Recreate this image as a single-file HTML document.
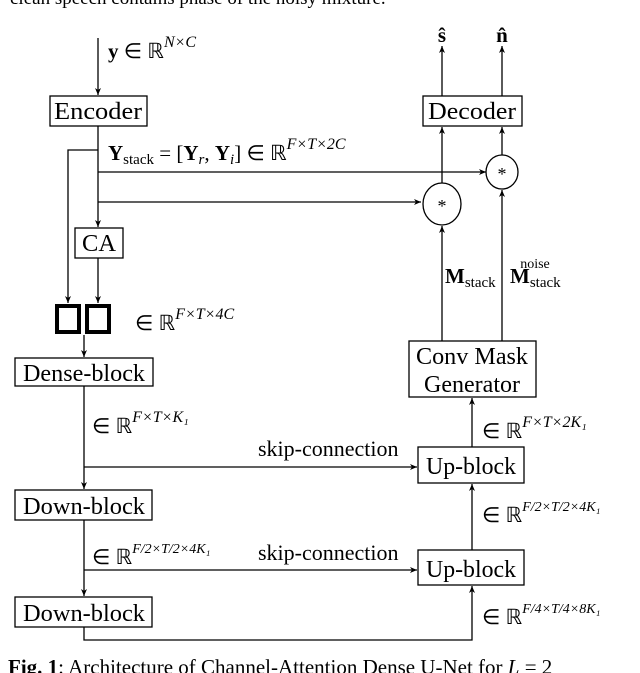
<!DOCTYPE html>
<html><head><style>
html,body{margin:0;padding:0;background:#fff;}
svg{display:block;font-family:"Liberation Serif",serif;}
</style></head><body>
<svg width="640" height="673" viewBox="0 0 640 673" xmlns="http://www.w3.org/2000/svg">
<defs><marker id="a" markerWidth="8" markerHeight="8" refX="7" refY="4" orient="auto" markerUnits="userSpaceOnUse"><path d="M0,1 L7,4 L0,7 L2,4 Z" fill="#000"/></marker></defs>
<text x="10" y="4" font-size="19">clean speech contains phase of the noisy mixture.</text>
<g stroke="#000" stroke-width="1.3" fill="none">
<line x1="98" y1="38" x2="98" y2="95" marker-end="url(#a)"/>
<rect x="50" y="96" width="97" height="30"/>
<rect x="423" y="96" width="99" height="30"/>
<line x1="442" y1="96" x2="442" y2="46" marker-end="url(#a)"/>
<line x1="502" y1="96" x2="502" y2="46" marker-end="url(#a)"/>
<line x1="98" y1="126" x2="98" y2="227" marker-end="url(#a)"/>
<polyline points="98,150 68,150 68,303" marker-end="url(#a)"/>
<line x1="98" y1="172" x2="486" y2="172" marker-end="url(#a)"/>
<line x1="98" y1="202" x2="421" y2="202" marker-end="url(#a)"/>
<ellipse cx="502" cy="172" rx="16" ry="17"/>
<ellipse cx="442" cy="204" rx="19" ry="21"/>
<line x1="442" y1="183" x2="442" y2="127" marker-end="url(#a)"/>
<line x1="502" y1="155" x2="502" y2="127" marker-end="url(#a)"/>
<line x1="442" y1="341" x2="442" y2="226" marker-end="url(#a)"/>
<line x1="502" y1="341" x2="502" y2="190" marker-end="url(#a)"/>
<rect x="75" y="228" width="48" height="30"/>
<line x1="98" y1="258" x2="98" y2="303" marker-end="url(#a)"/>
<line x1="84" y1="335" x2="84" y2="357" marker-end="url(#a)"/>
<rect x="15" y="358" width="138" height="28"/>
<rect x="409" y="341" width="127" height="56"/>
<line x1="84" y1="386" x2="84" y2="489" marker-end="url(#a)"/>
<line x1="84" y1="467" x2="417" y2="467" marker-end="url(#a)"/>
<rect x="418" y="447" width="106" height="36"/>
<rect x="15" y="490" width="137" height="30"/>
<line x1="84" y1="520" x2="84" y2="596" marker-end="url(#a)"/>
<line x1="84" y1="570" x2="417" y2="570" marker-end="url(#a)"/>
<rect x="418" y="550" width="106" height="35"/>
<rect x="15" y="597" width="137" height="30"/>
<polyline points="84,627 84,640 472,640 472,586" marker-end="url(#a)"/>
<line x1="472" y1="550" x2="472" y2="484" marker-end="url(#a)"/>
<line x1="472" y1="447" x2="472" y2="398" marker-end="url(#a)"/>
</g>
<rect x="57" y="306" width="22" height="26" fill="none" stroke="#000" stroke-width="4"/>
<rect x="87" y="306" width="22" height="26" fill="none" stroke="#000" stroke-width="4"/>
<g font-size="24" text-anchor="middle">
<text x="98" y="119" textLength="88" lengthAdjust="spacingAndGlyphs">Encoder</text>
<text x="472" y="119" textLength="88" lengthAdjust="spacingAndGlyphs">Decoder</text>
<text x="99" y="251" textLength="34" lengthAdjust="spacingAndGlyphs">CA</text>
<text x="84" y="381" textLength="122" lengthAdjust="spacingAndGlyphs">Dense-block</text>
<text x="472" y="364" textLength="112" lengthAdjust="spacingAndGlyphs">Conv Mask</text>
<text x="472" y="392" textLength="96" lengthAdjust="spacingAndGlyphs">Generator</text>
<text x="471" y="474" textLength="90" lengthAdjust="spacingAndGlyphs">Up-block</text>
<text x="84" y="514" textLength="122" lengthAdjust="spacingAndGlyphs">Down-block</text>
<text x="471" y="577" textLength="90" lengthAdjust="spacingAndGlyphs">Up-block</text>
<text x="84" y="621" textLength="122" lengthAdjust="spacingAndGlyphs">Down-block</text>
<text x="442" y="42" font-size="21" font-weight="bold">ŝ</text>
<text x="502" y="42" font-size="21" font-weight="bold">n̂</text>
<text x="442" y="212" font-size="18">*</text>
<text x="502" y="180" font-size="18">*</text>
</g>
<g font-size="21">
<text x="108" y="58"><tspan font-weight="bold">y</tspan> ∈ ℝ<tspan font-size="16" dy="-11" font-style="italic">N×C</tspan></text>
<text x="108" y="160"><tspan font-weight="bold">Y</tspan><tspan font-size="15" dy="4">stack</tspan><tspan dy="-4"> = [</tspan><tspan font-weight="bold">Y</tspan><tspan font-size="15" font-style="italic" dy="4">r</tspan><tspan dy="-4">, </tspan><tspan font-weight="bold">Y</tspan><tspan font-size="15" font-style="italic" dy="4">i</tspan><tspan dy="-4">] ∈ ℝ</tspan><tspan font-size="16" dy="-11" font-style="italic">F×T×2C</tspan></text>
<text x="135" y="330">∈ ℝ<tspan font-size="16" dy="-11" font-style="italic">F×T×4C</tspan></text>
<text x="445" y="283"><tspan font-weight="bold">M</tspan><tspan font-size="15" dy="4">stack</tspan></text>
<text x="510" y="283"><tspan font-weight="bold">M</tspan><tspan font-size="15" dy="4">stack</tspan></text>
<text x="535" y="268" font-size="14" text-anchor="middle">noise</text>
<text x="92" y="433">∈ ℝ<tspan font-size="16" dy="-11" font-style="italic">F×T×K₁</tspan></text>
<text x="258" y="456" font-size="22">skip-connection</text>
<text x="482" y="438">∈ ℝ<tspan font-size="16" dy="-11" font-style="italic">F×T×2K₁</tspan></text>
<text x="482" y="522">∈ ℝ<tspan font-size="14" dy="-11" font-style="italic">F/2×T/2×4K₁</tspan></text>
<text x="92" y="564">∈ ℝ<tspan font-size="14" dy="-11" font-style="italic">F/2×T/2×4K₁</tspan></text>
<text x="258" y="560" font-size="22">skip-connection</text>
<text x="482" y="624">∈ ℝ<tspan font-size="14" dy="-11" font-style="italic">F/4×T/4×8K₁</tspan></text>
<text x="8" y="674"><tspan font-weight="bold">Fig. 1</tspan>: Architecture of Channel-Attention Dense U-Net for <tspan font-style="italic">L</tspan> = 2</text>
</g>
</svg>
</body></html>
